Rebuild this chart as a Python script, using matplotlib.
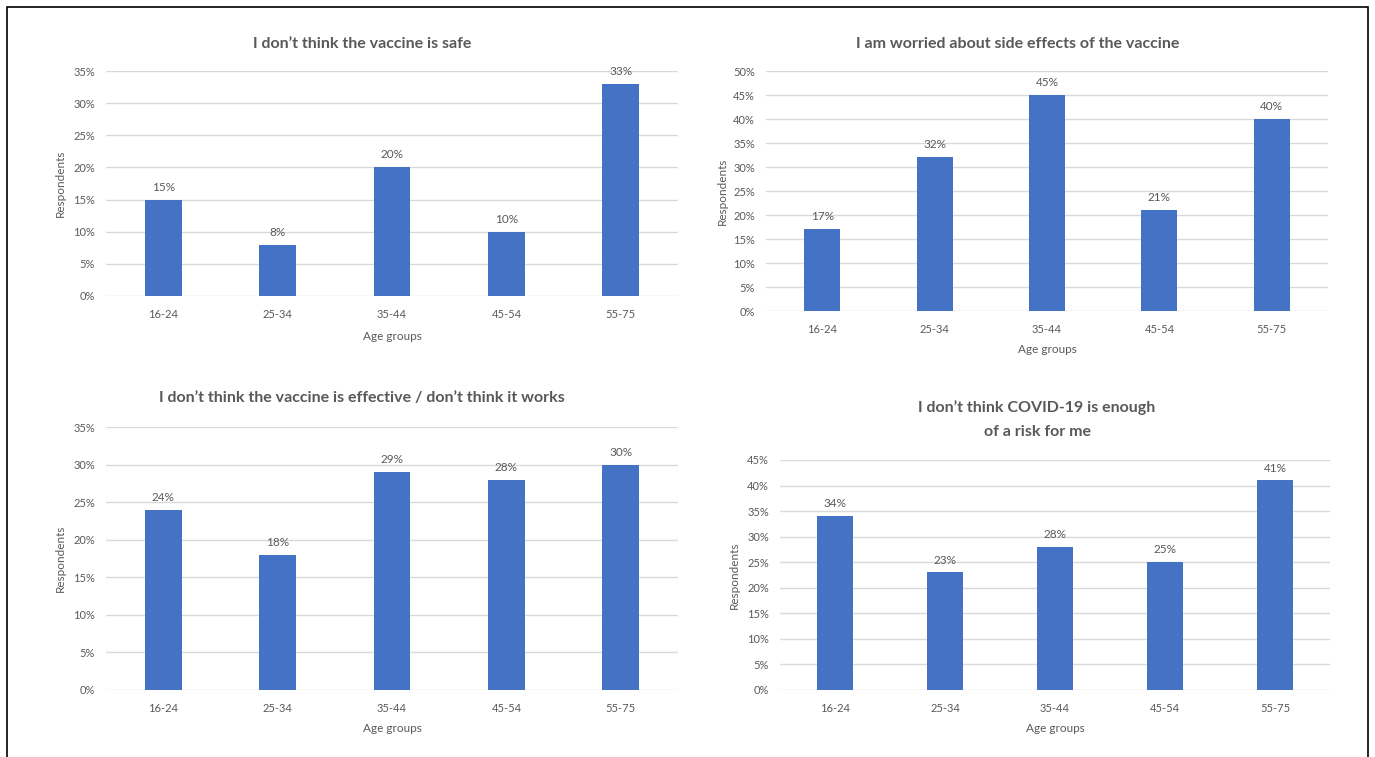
import numpy as np
import matplotlib.pyplot as plt
from matplotlib.patches import Rectangle
from matplotlib.ticker import PercentFormatter

plt.rcParams['font.family'] = ['Lato', 'DejaVu Sans']

ages = ['16-24', '25-34', '35-44', '45-54', '55-75']

safe = [15, 8, 20, 10, 33]
side_effects = [17, 32, 45, 21, 40]
effective = [24, 18, 29, 28, 30]
risk = [34, 23, 28, 25, 41]

titles = ["I don\u2019t think the vaccine is safe",
          "I am worried about side effects of the vaccine",
          "I don\u2019t think the vaccine is effective / don\u2019t think it works",
          "I don\u2019t think COVID-19 is enough\nof a risk for me"]

W, H = 1375, 757
BAR = '#4472C4'
GREY = '#595959'
GRID = '#D9D9D9'

fig = plt.figure(figsize=(W / 100, H / 100), dpi=100)

# pixel boxes: left, right, top(max), bottom(0%)
panels = [
    dict(vals=safe, box=(106, 678, 71, 296), ymax=35, title=(362, 44), ylab=60, xlab=336),
    dict(vals=side_effects, box=(766, 1328, 71, 311), ymax=50, title=(1018, 44), ylab=722, xlab=350),
    dict(vals=effective, box=(106, 678, 427, 690), ymax=35, title=(362, 398), ylab=60, xlab=729),
    dict(vals=risk, box=(780, 1330, 460, 690), ymax=45, title=(1037, 420), ylab=734, xlab=729),
]

for p, title in zip(panels, titles):
    l, r, t, b = p['box']
    ax = fig.add_axes([l / W, 1 - b / H, (r - l) / W, (b - t) / H])
    x = np.arange(len(ages))
    bars = ax.bar(x, p['vals'], width=0.32, color=BAR, zorder=3)
    ax.set_xlim(-0.5, len(ages) - 0.5)
    ax.set_ylim(0, p['ymax'])
    ax.set_yticks(np.arange(0, p['ymax'] + 1, 5))
    ax.yaxis.set_major_formatter(PercentFormatter(decimals=0))
    ax.set_xticks(x)
    ax.set_xticklabels(ages)
    ax.grid(axis='y', color=GRID, linewidth=1, zorder=0)
    for s in ax.spines.values():
        s.set_visible(False)
    ax.tick_params(length=0, colors=GREY, labelsize=8, pad=9)
    ax.tick_params(axis='y', pad=8)
    for rect, v in zip(bars, p['vals']):
        ax.annotate(f'{v}%', (rect.get_x() + rect.get_width() / 2, v),
                    xytext=(0, 5), textcoords='offset points',
                    ha='center', va='bottom', fontsize=8.5, color=GREY)
    fig.text(p['title'][0] / W, 1 - p['title'][1] / H, title, ha='center', va='center',
             fontsize=11.5, fontweight='bold', color=GREY, linespacing=1.9)
    fig.text(p['ylab'] / W, 1 - (t + b) / 2 / H, 'Respondents', rotation=90,
             ha='center', va='center', fontsize=8.5, color=GREY)
    fig.text((l + r) / 2 / W, 1 - p['xlab'] / H, 'Age groups',
             ha='center', va='center', fontsize=8.5, color=GREY)

fig.patches.append(Rectangle((7 / W, -0.02), (1368 - 7) / W, 1.02 - 7 / H,
                             transform=fig.transFigure, fill=False,
                             edgecolor='black', linewidth=1.2))

fig.savefig('out.png', dpi=100, facecolor='white')
